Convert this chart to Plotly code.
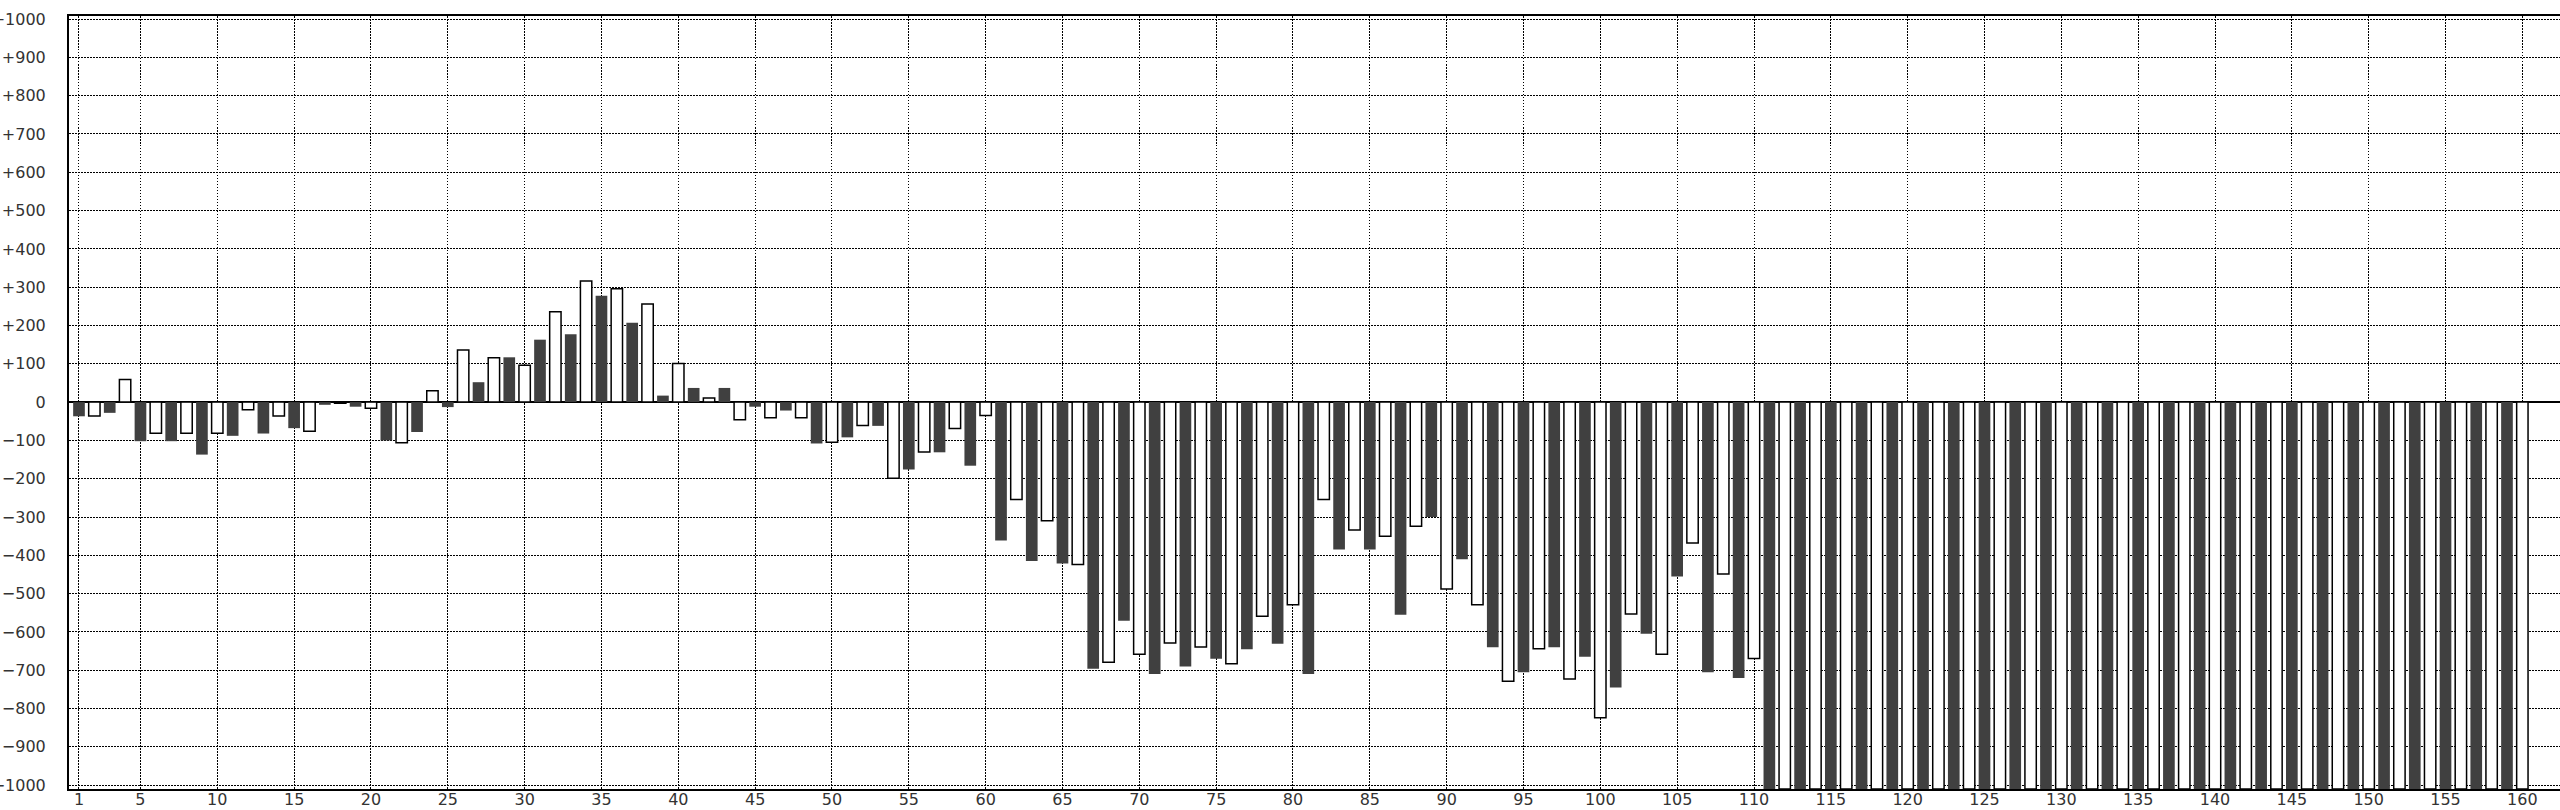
import plotly.graph_objects as go

# Day index 1..160 and the plotted value for each day
days = list(range(1, 161))
values = [
    -37, -36, -28, 59, -102, -81, -102, -81, -137, -81,
    -88, -20, -82, -36, -68, -76, -7, -3, -12, -16,
    -100, -106, -78, 30, -13, 136, 52, 116, 117, 96,
    163, 236, 177, 316, 278, 296, 207, 256, 17, 101,
    37, 11, 37, -46, -12, -41, -22, -41, -108, -105,
    -92, -61, -62, -199, -176, -130, -131, -69, -166, -35,
    -361, -254, -415, -310, -421, -424, -696, -679, -571, -658,
    -710, -629, -690, -639, -670, -683, -645, -559, -631, -529,
    -710, -254, -385, -334, -385, -350, -555, -324, -300, -488,
    -410, -529, -640, -729, -705, -644, -640, -723, -665, -824,
    -745, -553, -605, -658, -455, -368, -705, -449, -720, -669,
    -1010, -1010, -1010, -1010, -1010, -1010, -1010, -1010, -1010, -1010,
    -1010, -1010, -1010, -1010, -1010, -1010, -1010, -1010, -1010, -1010,
    -1010, -1010, -1010, -1010, -1010, -1010, -1010, -1010, -1010, -1010,
    -1010, -1010, -1010, -1010, -1010, -1010, -1010, -1010, -1010, -1010,
    -1010, -1010, -1010, -1010, -1010, -1010, -1010, -1010, -1010, -1010,
]

x_ticks = [1, 5, 10, 15, 20, 25, 30, 35, 40, 45, 50, 55, 60, 65, 70, 75, 80,
           85, 90, 95, 100, 105, 110, 115, 120, 125, 130, 135, 140, 145, 150,
           155, 160]
y_ticks = [1000, 900, 800, 700, 600, 500, 400, 300, 200, 100, 0,
           -100, -200, -300, -400, -500, -600, -700, -800, -900, -1000]
y_labels = ["+1000", "+900", "+800", "+700", "+600", "+500", "+400", "+300",
            "+200", "+100", "0", "\u2212100", "\u2212200", "\u2212300",
            "\u2212400", "\u2212500", "\u2212600", "\u2212700", "\u2212800",
            "\u2212900", "\u22121000"]

odd_x = days[0::2]
odd_v = values[0::2]
even_x = days[1::2]
even_v = values[1::2]

fig = go.Figure()
fig.add_trace(go.Bar(x=odd_x, y=odd_v, width=0.76,
                     marker=dict(color="#404040", line=dict(width=0)),
                     showlegend=False, hoverinfo="x+y"))
fig.add_trace(go.Bar(x=even_x, y=even_v, width=0.74,
                     marker=dict(color="#ffffff", line=dict(color="#000000", width=1.5)),
                     showlegend=False, hoverinfo="x+y"))

font = dict(family="DejaVu Sans", size=16, color="#333333")

fig.update_layout(
    width=2560, height=810,
    margin=dict(l=69, r=0, t=16, b=21, pad=0, autoexpand=False),
    paper_bgcolor="white", plot_bgcolor="white",
    barmode="overlay",
    font=font,
    xaxis=dict(
        range=[0.35, 162.45], tickmode="array", tickvals=x_ticks,
        ticktext=[str(t) for t in x_ticks], automargin=False,
        showgrid=True, gridcolor="#000000", gridwidth=1.2, griddash="1.5px,1.5px",
        showline=True, linecolor="#000000", linewidth=2, mirror=True,
        ticks="", zeroline=False, tickfont=font, ticklabelstandoff=-5,
    ),
    yaxis=dict(
        range=[-1010, 1008], tickmode="array", tickvals=y_ticks, ticktext=y_labels,
        automargin=False,
        showgrid=True, gridcolor="#000000", gridwidth=1.2, griddash="1.5px,1.5px",
        showline=True, linecolor="#000000", linewidth=2, mirror=False,
        zeroline=True, zerolinecolor="#000000", zerolinewidth=2,
        ticks="", ticklabelstandoff=18, tickfont=font,
    ),
)

fig.write_html(
    "out.html",
    config={"displayModeBar": False},
    post_script="document.body.style.margin='0';document.body.style.overflow='hidden';",
)
